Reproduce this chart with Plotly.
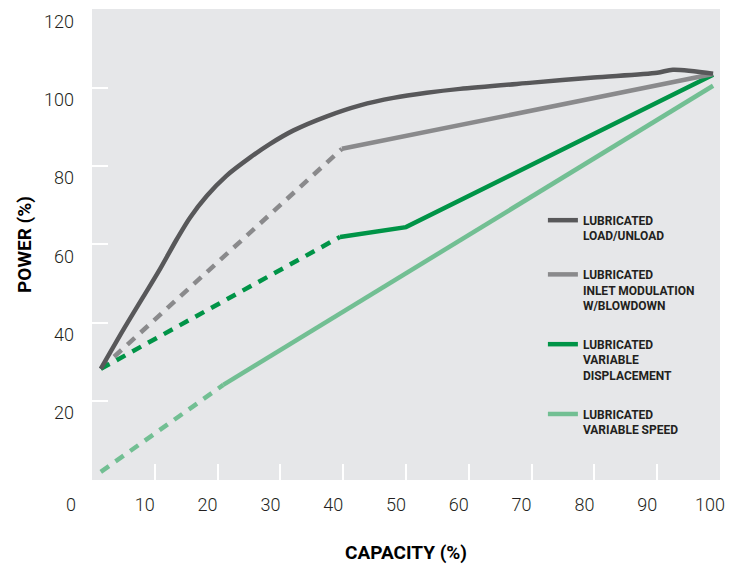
import plotly.graph_objects as go

# Capacity (%) / Power (%) values
load_x = [1.4, 5.0, 8.2, 10.8, 13.5, 15.6, 18.3, 21.4, 25.2, 28.3, 32.1, 37.4, 42.7, 48.0, 53.3, 58.6, 70.1, 79.9, 90.0, 92.5, 98.9]
load_y = [28.2, 38.2, 46.7, 53.6, 61.3, 66.8, 72.4, 77.5, 82.2, 85.6, 89.1, 92.7, 95.5, 97.4, 98.7, 99.7, 101.3, 102.6, 103.8, 104.6, 103.6]

inlet_dash_x = [1.4, 39.8]
inlet_dash_y = [28.2, 84.4]
inlet_x = [39.8, 98.9]
inlet_y = [84.4, 103.5]

vd_dash_x = [1.4, 39.5]
vd_dash_y = [28.2, 61.9]
vd_x = [39.5, 50.0, 98.9]
vd_y = [61.9, 64.4, 103.3]

vs_dash_x = [1.4, 20.9]
vs_dash_y = [1.9, 24.1]
vs_x = [20.9, 98.9]
vs_y = [24.1, 100.5]

x_ticks = [10, 20, 30, 40, 50, 60, 70, 80, 90, 100]
y_ticks = [20, 40, 60, 80, 100, 120]

names = ["LUBRICATED<br>LOAD/UNLOAD",
         "LUBRICATED<br>INLET MODULATION<br>W/BLOWDOWN",
         "LUBRICATED<br>VARIABLE<br>DISPLACEMENT",
         "LUBRICATED<br>VARIABLE SPEED"]
colors = ["#58585a", "#8a8a8c", "#009447", "#72bf93"]

DASH = "10px,8px"
LW = 4.5

fig = go.Figure()

for xs, ys, c, g in [(inlet_dash_x, inlet_dash_y, colors[1], "g2"),
                     (vd_dash_x, vd_dash_y, colors[2], "g3"),
                     (vs_dash_x, vs_dash_y, colors[3], "g4")]:
    fig.add_trace(go.Scatter(x=xs, y=ys, mode="lines", showlegend=False, legendgroup=g,
                             line=dict(color=c, width=LW, dash=DASH), hoverinfo="skip"))

fig.add_trace(go.Scatter(x=vs_x, y=vs_y, mode="lines", name=names[3], legendgroup="g4", legendrank=4,
                         line=dict(color=colors[3], width=LW)))
fig.add_trace(go.Scatter(x=vd_x, y=vd_y, mode="lines", name=names[2], legendgroup="g3", legendrank=3,
                         line=dict(color=colors[2], width=LW)))
fig.add_trace(go.Scatter(x=inlet_x, y=inlet_y, mode="lines", name=names[1], legendgroup="g2", legendrank=2,
                         line=dict(color=colors[1], width=LW)))
fig.add_trace(go.Scatter(x=load_x, y=load_y, mode="lines", name=names[0], legendgroup="g1", legendrank=1,
                         line=dict(color=colors[0], width=LW, shape="spline", smoothing=0.8)))

tick_font = dict(family="Roboto", size=18, color="#231f20", weight=300)
title_font = dict(family="Roboto", size=19, color="#000000", weight="bold")
legend_font = dict(family="Roboto", size=12, color="#231f20", weight="bold")

fig.update_layout(
    width=734, height=565,
    margin=dict(l=92, r=14, t=9, b=85, autoexpand=False),
    paper_bgcolor="#ffffff",
    plot_bgcolor="#e6e7e9",
    showlegend=True,
    legend=dict(x=0.718, y=0.582, xanchor="left", yanchor="top",
                bgcolor="rgba(0,0,0,0)", valign="top", tracegroupgap=20,
                traceorder="grouped", font=legend_font),
    xaxis=dict(range=[0, 100], tickvals=x_ticks, ticktext=[str(v) for v in x_ticks],
               ticks="inside", ticklen=16, tickwidth=2, tickcolor="#ffffff",
               showgrid=False, zeroline=False, showline=False, automargin=False,
               tickfont=tick_font, ticklabelshift=-10, ticklabelstandoff=12,
               title=dict(text="CAPACITY (%)", font=title_font, standoff=31)),
    yaxis=dict(range=[-0.18, 120.1], tickvals=y_ticks, ticktext=[str(v) for v in y_ticks],
               ticks="inside", ticklen=16, tickwidth=2, tickcolor="#ffffff",
               showgrid=False, zeroline=False, showline=False, automargin=False,
               tickfont=tick_font, ticklabelshift=12, ticklabelstandoff=17,
               title=dict(text="POWER (%)", font=title_font, standoff=7)),
)

fig.add_annotation(text="0", xref="paper", yref="paper", x=-0.022, y=-0.053,
                   xanchor="right", yanchor="middle", showarrow=False, font=tick_font)

fig.write_html("out.html", config={"displayModeBar": False},
               post_script="document.body.style.margin='0';")
